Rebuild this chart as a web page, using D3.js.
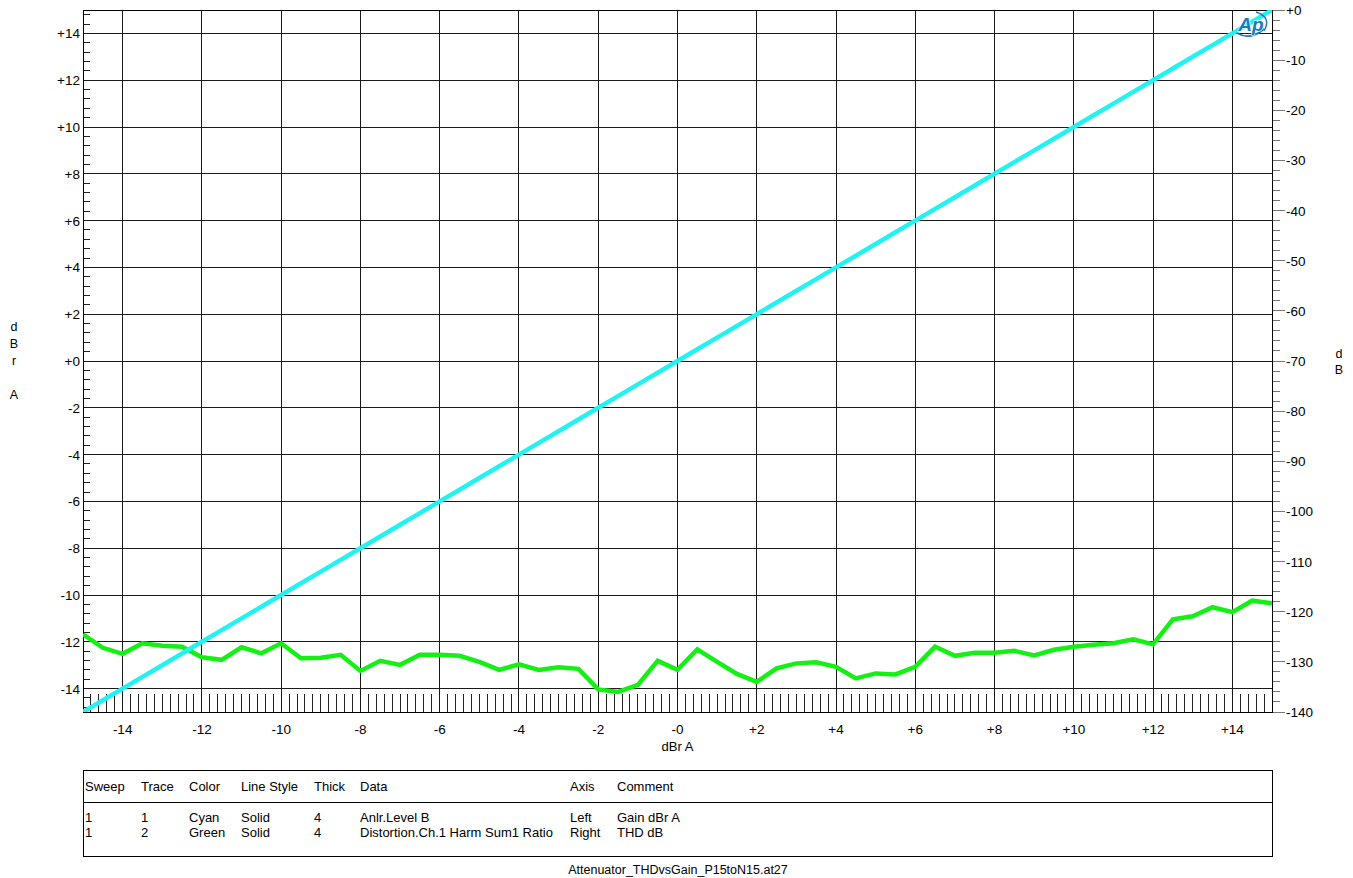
<!DOCTYPE html>
<html>
<head>
<meta charset="utf-8">
<script src="https://cdn.jsdelivr.net/npm/d3@7"></script>
<style>
  html, body { margin: 0; padding: 0; background: #fff; }
  svg { display: block; }
  text { font-family: "Liberation Sans", Arial, sans-serif; }
  .narrow { font-family: "Liberation Sans Narrow", "Arial Narrow", "Liberation Sans", sans-serif; }
</style>
</head>
<body>
<svg id="chart" width="1353" height="878"></svg>
<script>
// ---- Data ----
const sweepX = [-15,-14.5,-14,-13.5,-13,-12.5,-12,-11.5,-11,-10.5,-10,-9.5,-9,-8.5,-8,-7.5,-7,-6.5,-6,-5.5,-5,-4.5,-4,-3.5,-3,-2.5,-2,-1.5,-1,-0.5,0,0.5,1,1.5,2,2.5,3,3.5,4,4.5,5,5.5,6,6.5,7,7.5,8,8.5,9,9.5,10,10.5,11,11.5,12,12.5,13,13.5,14,14.5,15];
const gainDbrA = [-15,-14.5,-14,-13.5,-13,-12.5,-12,-11.5,-11,-10.5,-10,-9.5,-9,-8.5,-8,-7.5,-7,-6.5,-6,-5.5,-5,-4.5,-4,-3.5,-3,-2.5,-2,-1.5,-1,-0.5,0,0.5,1,1.5,2,2.5,3,3.5,4,4.5,5,5.5,6,6.5,7,7.5,8,8.5,9,9.5,10,10.5,11,11.5,12,12.5,13,13.5,14,14.5,15];
const thdDb = [-124.5,-127.2,-128.4,-126.3,-126.8,-127.0,-129.1,-129.6,-127.1,-128.3,-126.3,-129.3,-129.2,-128.6,-131.8,-129.8,-130.6,-128.6,-128.6,-128.8,-130.0,-131.6,-130.5,-131.6,-131.1,-131.4,-135.5,-136.0,-134.6,-129.8,-131.6,-127.5,-130.0,-132.4,-134.0,-131.3,-130.3,-130.1,-131.0,-133.3,-132.3,-132.5,-131.0,-127.0,-128.8,-128.2,-128.2,-127.8,-128.7,-127.6,-127.0,-126.6,-126.3,-125.5,-126.5,-121.5,-120.9,-119.1,-120.1,-117.8,-118.3];

const xTicks = [-14,-12,-10,-8,-6,-4,-2,0,2,4,6,8,10,12,14];
const xTickLabels = ["-14","-12","-10","-8","-6","-4","-2","-0","+2","+4","+6","+8","+10","+12","+14"];
const yLeftTicks = [-14,-12,-10,-8,-6,-4,-2,0,2,4,6,8,10,12,14];
const yLeftTickLabels = ["-14","-12","-10","-8","-6","-4","-2","+0","+2","+4","+6","+8","+10","+12","+14"];
const yRightTicks = [0,-10,-20,-30,-40,-50,-60,-70,-80,-90,-100,-110,-120,-130,-140];
const yRightTickLabels = ["+0","-10","-20","-30","-40","-50","-60","-70","-80","-90","-100","-110","-120","-130","-140"];

const legendHeaders = ["Sweep","Trace","Color","Line Style","Thick","Data","Axis","Comment"];
const legendRows = [
  ["1","1","Cyan","Solid","4","Anlr.Level B","Left","Gain dBr A"],
  ["1","2","Green","Solid","4","Distortion.Ch.1 Harm Sum1 Ratio","Right","THD dB"]
];
const footerText = "Attenuator_THDvsGain_P15toN15.at27";

// ---- Layout ----
const L = 83, R = 1272, T = 10, B = 712;
const svg = d3.select("#chart");

const x = d3.scaleLinear().domain([-15, 15]).range([L, R]);
const yL = d3.scaleLinear().domain([-15, 15]).range([B, T]);
const yR = d3.scaleLinear().domain([-140, 0]).range([B, T]);

svg.append("defs").append("clipPath").attr("id","plotclip")
  .append("rect").attr("x", L).attr("y", T).attr("width", R-L).attr("height", B-T);

// Grid
const grid = svg.append("g").attr("shape-rendering","crispEdges");
grid.selectAll("line.v").data(xTicks).join("line")
  .attr("x1", d => x(d)).attr("x2", d => x(d)).attr("y1", T).attr("y2", B)
  .attr("stroke", "#1a1a1a").attr("stroke-width", 1);
grid.selectAll("line.h").data(yLeftTicks).join("line")
  .attr("y1", d => yL(d)).attr("y2", d => yL(d)).attr("x1", L).attr("x2", R)
  .attr("stroke", "#1a1a1a").attr("stroke-width", 1);

// Bottom minor ticks (inside, every 0.2)
grid.selectAll("line.xm").data(d3.range(-74, 75).map(i => i*0.2).filter(v => Math.abs(Math.round(v*10)) % 20 !== 0))
  .join("line")
  .attr("x1", d => x(d)).attr("x2", d => x(d)).attr("y1", B).attr("y2", B-18)
  .attr("stroke", "#222").attr("stroke-width", 1);

// Left minor ticks (inside, every 0.4)
grid.selectAll("line.ym").data(d3.range(-37, 38).map(i => i*0.4).filter(v => Math.abs(Math.round(v*10)) % 20 !== 0))
  .join("line")
  .attr("y1", d => yL(d)).attr("y2", d => yL(d)).attr("x1", L).attr("x2", L+7)
  .attr("stroke", "#222").attr("stroke-width", 1);

// Right ticks (outside)
grid.selectAll("line.rm").data(d3.range(-140, 1, 2).filter(v => v % 10 !== 0))
  .join("line")
  .attr("y1", d => yR(d)).attr("y2", d => yR(d)).attr("x1", R).attr("x2", R+8)
  .attr("stroke", "#777").attr("stroke-width", 1);
grid.selectAll("line.rM").data(yRightTicks)
  .join("line")
  .attr("y1", d => yR(d)).attr("y2", d => yR(d)).attr("x1", R).attr("x2", R+13)
  .attr("stroke", "#777").attr("stroke-width", 1);

// Frame
svg.append("rect").attr("x", L).attr("y", T).attr("width", R-L).attr("height", B-T)
  .attr("fill","none").attr("stroke","#000").attr("stroke-width",1).attr("shape-rendering","crispEdges");

// Traces
const plot = svg.append("g").attr("clip-path","url(#plotclip)");
const pts = sweepX.map((v,i) => ({x: v, g: gainDbrA[i], t: thdDb[i]}));
plot.append("path").datum(pts)
  .attr("fill","none").attr("stroke","#14f014").attr("stroke-width",4.5).attr("stroke-linejoin","miter")
  .attr("d", d3.line().x(d => x(d.x)).y(d => yR(d.t)));
plot.append("path").datum(pts)
  .attr("fill","none").attr("stroke","#22f2f2").attr("stroke-width",4.5)
  .attr("d", d3.line().x(d => x(d.x)).y(d => yL(d.g)));

// Tick labels
const labels = svg.append("g").attr("font-size", 13.5).attr("fill","#000");
labels.selectAll("text.xl").data(xTicks).join("text")
  .attr("x", d => x(d)).attr("y", 734).attr("text-anchor","middle")
  .text((d,i) => xTickLabels[i]);
labels.selectAll("text.yl").data(yLeftTicks).join("text")
  .attr("x", 80).attr("y", d => yL(d) + 5).attr("text-anchor","end")
  .text((d,i) => yLeftTickLabels[i]);
labels.selectAll("text.yr").data(yRightTicks).join("text")
  .attr("x", R+14).attr("y", d => yR(d) + 5).attr("text-anchor","start")
  .text((d,i) => yRightTickLabels[i]);

// Axis titles
svg.append("text").attr("x", (L+R)/2).attr("y", 751).attr("text-anchor","middle").attr("font-size", 13).text("dBr A");
const leftTitle = [["d",331],["B",348],["r",365],["A",399]];
svg.selectAll("text.lt").data(leftTitle).join("text")
  .attr("x", 14).attr("y", d => d[1]).attr("text-anchor","middle").attr("font-size", 12.5).text(d => d[0]);
const rightTitle = [["d",358],["B",374]];
svg.selectAll("text.rt").data(rightTitle).join("text")
  .attr("x", 1339).attr("y", d => d[1]).attr("text-anchor","middle").attr("font-size", 12.5).text(d => d[0]);

// AP logo
const logo = svg.append("g").attr("transform","translate(1252,25)");
logo.append("path").attr("d","M -15 8 Q -2 16 12 4").attr("fill","none").attr("stroke","#1b78c2").attr("stroke-width",1.8);
logo.append("path").attr("d","M 4 -13 Q 20 -8 12 6").attr("fill","none").attr("stroke","#1b78c2").attr("stroke-width",1.4);
logo.append("text").attr("x",-1).attr("y",6).attr("text-anchor","middle")
  .attr("font-size",19).attr("font-style","italic").attr("font-weight","bold")
  .attr("fill","#1b78c2").attr("stroke","#fff").attr("stroke-width",1.2).attr("paint-order","stroke")
  .text("Ap");

// Legend table
const LT = 770, LB = 856;
svg.append("rect").attr("x", L).attr("y", LT).attr("width", R-L).attr("height", LB-LT)
  .attr("fill","none").attr("stroke","#000").attr("stroke-width",1).attr("shape-rendering","crispEdges");
svg.append("line").attr("x1", L).attr("x2", R).attr("y1", 802).attr("y2", 802)
  .attr("stroke","#000").attr("stroke-width",1).attr("shape-rendering","crispEdges");
const colX = [85,141,189,241,314,360,570,617];
const tbl = svg.append("g").attr("class","narrow").attr("font-size", 13).attr("fill","#000");
tbl.selectAll("text.h").data(legendHeaders).join("text")
  .attr("x", (d,i) => colX[i]).attr("y", 791).text(d => d);
legendRows.forEach((row, r) => {
  tbl.selectAll("text.r"+r).data(row).join("text")
    .attr("x", (d,i) => colX[i]).attr("y", 822 + r*15).text(d => d);
});
svg.append("text").attr("class","narrow").attr("x", 678).attr("y", 874).attr("text-anchor","middle")
  .attr("font-size", 12.5).text(footerText);
</script>
</body>
</html>
